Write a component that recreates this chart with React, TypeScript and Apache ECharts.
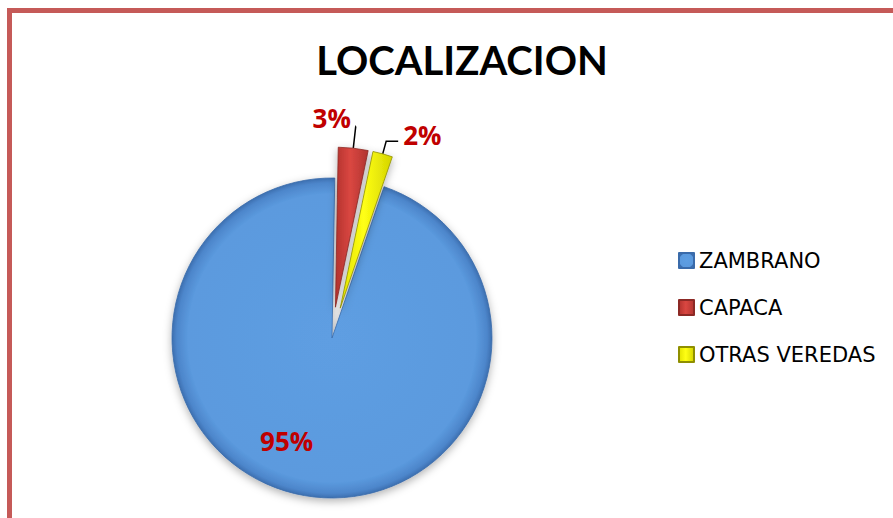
import React, { useEffect, useRef } from 'react';
import * as echarts from 'echarts';

const categories = ['ZAMBRANO', 'CAPACA', 'OTRAS VEREDAS'];
const values = [95, 3, 2];
const percentLabels = ['95%', '3%', '2%'];
const exploded = [false, true, true];

export default function App() {
  const ref = useRef<HTMLDivElement>(null);

  useEffect(() => {
    const chart = echarts.init(ref.current!, null, { renderer: 'svg' });

    const fills = [
      new echarts.graphic.RadialGradient(0.5, 0.5, 0.5, [
        { offset: 0, color: '#5E9EE2' },
        { offset: 0.9, color: '#5B9ADE' },
        { offset: 0.97, color: '#4D86CB' },
        { offset: 1, color: '#3C6FB0' },
      ]),
      new echarts.graphic.LinearGradient(0, 0, 1, 0, [
        { offset: 0, color: '#B3322E' },
        { offset: 0.45, color: '#DA4741' },
        { offset: 1, color: '#B23531' },
      ]),
      new echarts.graphic.LinearGradient(0, 0, 1, 0, [
        { offset: 0, color: '#E2E200' },
        { offset: 0.45, color: '#FFFF14' },
        { offset: 1, color: '#D4D400' },
      ]),
    ];
    const borders = ['#3A6BAA', '#8C2925', '#8F8F00'];

    const labelFont = {
      fontFamily: '"Open Sans", "DejaVu Sans", sans-serif',
      fontWeight: 'bold' as const,
      fontSize: 26,
      color: '#C00000',
    };

    const data = categories.map((name, i) => ({
      name,
      value: values[i],
      selected: exploded[i],
      itemStyle: {
        color: fills[i],
        borderColor: borders[i],
        borderWidth: 0.8,
      },
      label: {
        show: true,
        position: i === 0 ? 'inside' : 'outside',
        formatter: () => percentLabels[i],
        ...labelFont,
      },
      labelLine: {
        show: i !== 0,
        length: i === 1 ? 22 : 13,
        length2: i === 1 ? 0.1 : 12,
        smooth: false,
        lineStyle: { color: '#000', width: 1.5 },
      },
    }));

    chart.setOption({
      animation: false,
      backgroundColor: '#ffffff',
      title: {
        text: 'LOCALIZACION',
        left: 457,
        top: 35,
        textAlign: 'center',
        textStyle: {
          fontFamily: 'Lato, "Open Sans", sans-serif',
          fontWeight: 'bold',
          fontSize: 40,
          color: '#000',
        },
      },
      legend: {
        orient: 'vertical',
        left: 678,
        top: 250,
        padding: 0,
        itemWidth: 15,
        itemHeight: 15,
        itemGap: 26,
        icon: 'rect',
        selectedMode: false,
        data: categories,
        textStyle: {
          fontFamily: '"DejaVu Sans", sans-serif',
          fontSize: 21,
          color: '#000',
        },
      },
      graphic: [
        {
          type: 'rect',
          silent: true,
          z: 100,
          shape: { x: 9.5, y: 10.5, width: 1000, height: 1000 },
          style: { fill: 'none', stroke: '#C55A58', lineWidth: 5 },
        },
      ],
      series: [
        {
          type: 'pie',
          center: [332, 338],
          radius: 160,
          startAngle: 71,
          clockwise: true,
          selectedMode: 'multiple',
          selectedOffset: 31,
          avoidLabelOverlap: false,
          emphasis: { disabled: true },
          itemStyle: {
            shadowBlur: 8,
            shadowColor: 'rgba(0,0,0,0.3)',
            shadowOffsetY: 3,
          },
          labelLayout: (p: any) => {
            if (p.dataIndex === 0) return { dx: -31, dy: 21 };
            if (p.dataIndex === 1) return { dx: -(p.labelRect.width + 10), dy: -8 };
            if (p.dataIndex === 2) return { dy: -6 };
            return {};
          },
          data,
        },
      ],
    });

    return () => chart.dispose();
  }, []);

  return (
    <div
      ref={ref}
      style={{ position: 'fixed', left: 0, top: 0, width: 893, height: 518 }}
    />
  );
}
